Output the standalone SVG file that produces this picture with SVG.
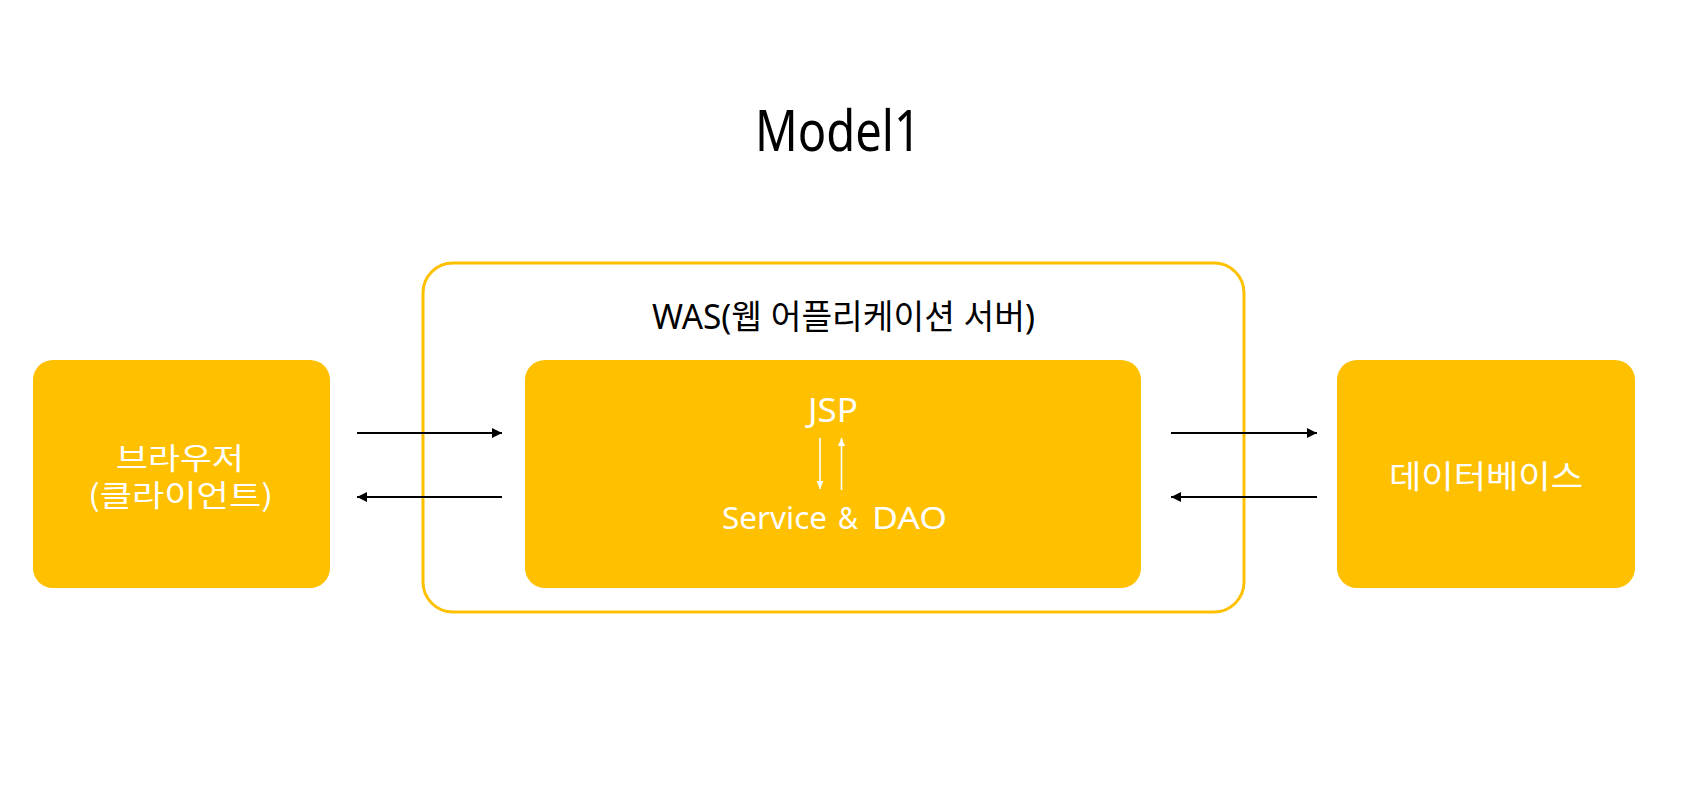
<svg xmlns="http://www.w3.org/2000/svg" width="1707" height="807" viewBox="0 0 1707 807">
<style>
.box{fill:#FFC000;}
.outer{fill:none;stroke:#FFC000;stroke-width:3;}
.lbl{font-family:"Noto Sans","Noto Sans CJK KR",sans-serif;fill:#FFFFFF;}
.kr{font-family:"Noto Sans CJK KR","Noto Sans",sans-serif;fill:#FFFFFF;text-anchor:middle;}
.dark{font-family:"Noto Sans","Noto Sans CJK KR",sans-serif;fill:#000000;text-anchor:middle;}
.conn{stroke:#000000;stroke-width:2.2;fill:none;}
.wconn{stroke:#FFFFFF;stroke-width:1.6;fill:none;}
</style>
<defs>
<marker id="ah" markerUnits="userSpaceOnUse" markerWidth="12" markerHeight="10" refX="10" refY="5" orient="auto">
<path d="M0,0 L10,5 L0,10 Z" fill="#000000"/>
</marker>
<marker id="wh" markerUnits="userSpaceOnUse" markerWidth="10" markerHeight="8" refX="8" refY="3.5" orient="auto">
<path d="M0,0 L8,3.5 L0,7 Z" fill="#FFFFFF"/>
</marker>
</defs>
<rect width="1707" height="807" fill="#FFFFFF"/>
<text class="dark" x="838" y="151" font-size="56" textLength="166" lengthAdjust="spacingAndGlyphs">Model1</text>
<g id="was">
<rect class="outer" x="423" y="263" width="821" height="349" rx="30" ry="30"/>
<text class="dark" x="843.5" y="329" font-size="34" textLength="383" lengthAdjust="spacingAndGlyphs">WAS(웹 어플리케이션 서버)</text>
</g>
<g id="browser">
<rect class="box" x="33" y="360" width="297" height="228" rx="20" ry="20"/>
<text class="kr" x="180" y="469" font-size="29.5" textLength="128" lengthAdjust="spacingAndGlyphs">브라우저</text>
<text class="kr" x="180.5" y="506" font-size="29.5" textLength="185" lengthAdjust="spacingAndGlyphs">(클라이언트)</text>
</g>
<g id="app">
<rect class="box" x="525" y="360" width="616" height="228" rx="20" ry="20"/>
<text class="lbl" x="833" y="422" font-size="32" text-anchor="middle" textLength="50" lengthAdjust="spacingAndGlyphs">JSP</text>
<text class="lbl" x="722" y="529" font-size="30.5"><tspan x="722" textLength="105" lengthAdjust="spacingAndGlyphs">Service</tspan><tspan x="838" textLength="20" lengthAdjust="spacingAndGlyphs">&amp;</tspan><tspan x="872" textLength="75" lengthAdjust="spacingAndGlyphs">DAO</tspan></text>
</g>
<g id="database">
<rect class="box" x="1337" y="360" width="298" height="228" rx="20" ry="20"/>
<text class="kr" x="1486" y="488" font-size="32" textLength="194" lengthAdjust="spacingAndGlyphs">데이터베이스</text>
</g>
<g id="connectors">
<line class="conn" x1="357" y1="433" x2="502" y2="433" marker-end="url(#ah)"/>
<line class="conn" x1="502" y1="497" x2="357" y2="497" marker-end="url(#ah)"/>
<line class="conn" x1="1171" y1="433" x2="1317" y2="433" marker-end="url(#ah)"/>
<line class="conn" x1="1317" y1="497" x2="1171" y2="497" marker-end="url(#ah)"/>
<line class="wconn" x1="820" y1="438" x2="820" y2="489" marker-end="url(#wh)"/>
<line class="wconn" x1="841.5" y1="490" x2="841.5" y2="438" marker-end="url(#wh)"/>
</g>
</svg>
